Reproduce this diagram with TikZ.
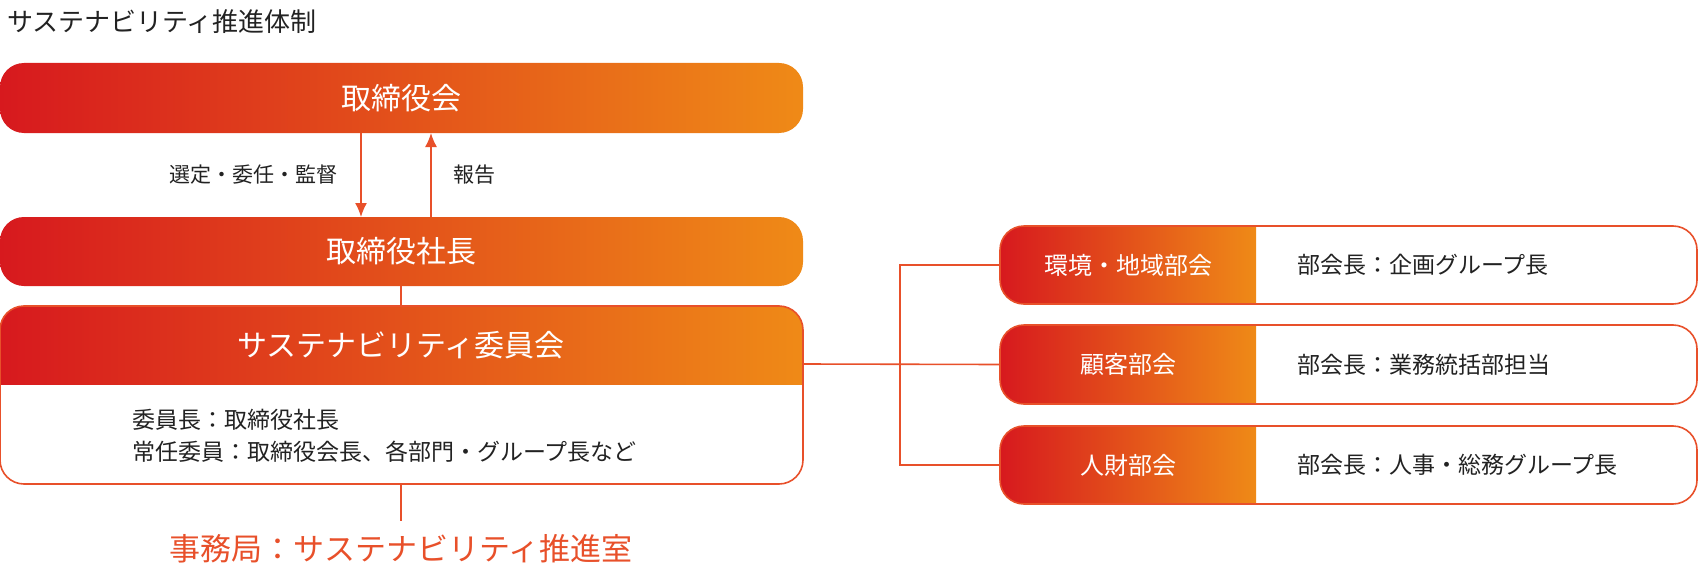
\documentclass[tikz,border=0pt]{standalone}
\usepackage{fontspec}
\usetikzlibrary{arrows.meta}
\setmainfont{Noto Sans CJK JP}
\definecolor{cred}{HTML}{D7191E}
\definecolor{corg}{HTML}{EF8A17}
\definecolor{cline}{HTML}{E8502A}
\definecolor{ctxt}{HTML}{222222}
\begin{document}
\begin{tikzpicture}[x=0.5pt,y=-0.5pt,
  grad/.style={left color=cred,right color=corg,shading angle=90},
  wt/.style={text=white,font=\fontsize{15}{18}\selectfont},
  st/.style={text=ctxt,font=\fontsize{10.5}{13}\selectfont},
  rt/.style={text=ctxt,font=\fontsize{11.5}{14}\selectfont},
  ln/.style={cline,line width=0.8pt}]
\useasboundingbox (0,0) rectangle (1700,567);
\node[anchor=west,text=ctxt,font=\fontsize{13}{16}\selectfont] (title) at (0,22) {サステナビリティ推進体制};
% box1
\shade[grad,rounded corners=12] (0,63) rectangle (803,133);
\node[wt] (b1) at (401,98) {取締役会};
\coordinate (b1a) at (361,133); \coordinate (b1b) at (431,133);
% box2
\shade[grad,rounded corners=12] (0,217) rectangle (803,286);
\node[wt] (b2) at (401,251) {取締役社長};
\coordinate (b2a) at (361,217); \coordinate (b2b) at (431,217);
\draw[ln,-{Latex[length=7pt,width=6pt]}] (b1a) -- (b2a);
\draw[ln,-{Latex[length=7pt,width=6pt]}] (b2b) -- (b1b);
\node[st,anchor=east] (l1) at (345,175) {選定・委任・監督};
\node[st,anchor=west] (l2) at (446,175) {報告};
% box3
\begin{scope}
\clip[rounded corners=12] (0,306) rectangle (803,484);
\shade[grad] (0,306) rectangle (803,384);
\end{scope}
\draw[ln,rounded corners=12] (0,306) rectangle (803,484);
\node[wt] (b3) at (401,345) {サステナビリティ委員会};
\node[st,anchor=west,font=\fontsize{11.5}{14}\selectfont] (t1) at (125,420) {委員長：取締役社長};
\node[st,anchor=west,font=\fontsize{11.5}{14}\selectfont] (t2) at (125,452) {常任委員：取締役会長、各部門・グループ長など};
\coordinate (b2s) at (401,286); \coordinate (b3n) at (401,306);
\draw[ln] (b2s) -- (b3n);
\coordinate (b3s) at (401,484); \coordinate (sec) at (401,521);
\draw[ln] (b3s) -- (sec);
\node[text=cline,font=\fontsize{15.5}{18}\selectfont] (jm) at (401,549) {事務局：サステナビリティ推進室};
% right boxes
\foreach \n/\ya/\yb/\na/\nb in {A/226/304/環境・地域部会/部会長：企画グループ長, B/325/404/顧客部会/部会長：業務統括部担当, C/426/504/人財部会/部会長：人事・総務グループ長}{
  \begin{scope}
  \clip[rounded corners=12] (1000,\ya) rectangle (1697,\yb);
  \shade[grad] (1000,\ya) rectangle (1256,\yb);
  \end{scope}
  \draw[ln,rounded corners=12] (1000,\ya) rectangle (1697,\yb);
  \node[wt,font=\fontsize{12}{14}\selectfont] (h\n) at (1128,{(\ya+\yb)/2}) {\na};
  \node[rt,anchor=west] (d\n) at (1290,{(\ya+\yb)/2}) {\nb};
  \coordinate (w\n) at (1000,{(\ya+\yb)/2});
}
\coordinate (b3e) at (803,364);
\coordinate (br) at (900,364);
\draw[ln] (wA) -| (br) |- (wC);
\draw[ln] (b3e) -- (wB);
\end{tikzpicture}
\end{document}
